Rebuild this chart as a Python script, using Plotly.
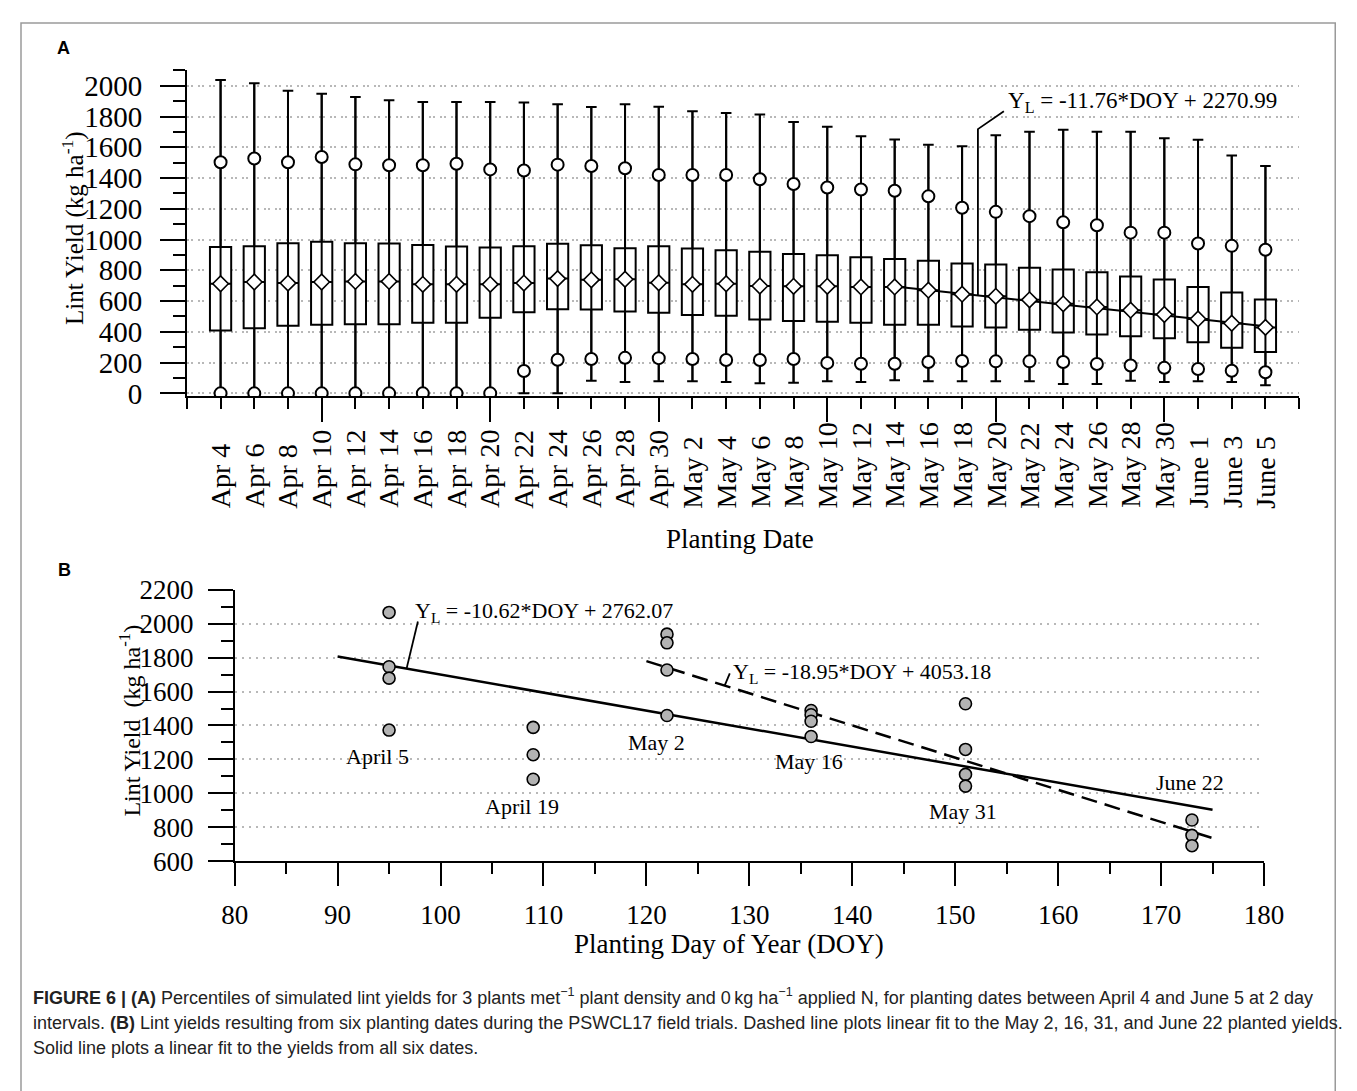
import plotly.graph_objects as go

# ---------------- Panel A data ----------------
dates_a = ["Apr 4", "Apr 6", "Apr 8", "Apr 10", "Apr 12", "Apr 14", "Apr 16", "Apr 18",
           "Apr 20", "Apr 22", "Apr 24", "Apr 26", "Apr 28", "Apr 30", "May 2", "May 4",
           "May 6", "May 8", "May 10", "May 12", "May 14", "May 16", "May 18", "May 20",
           "May 22", "May 24", "May 26", "May 28", "May 30", "June 1", "June 3", "June 5"]
doy_a = [94, 96, 98, 100, 102, 104, 106, 108, 110, 112, 114, 116, 118, 120, 122, 124,
         126, 128, 130, 132, 134, 136, 138, 140, 142, 144, 146, 148, 150, 152, 154, 156]
p_max = [2038, 2017, 1967, 1948, 1926, 1905, 1895, 1895, 1895, 1891, 1880, 1861, 1880, 1863, 1834, 1823,
         1813, 1764, 1733, 1672, 1651, 1617, 1607, 1678, 1701, 1714, 1701, 1701, 1659, 1649, 1546, 1478]
p90 = [1503, 1527, 1503, 1537, 1489, 1483, 1483, 1493, 1456, 1449, 1487, 1478, 1464, 1420, 1420, 1420,
       1392, 1361, 1338, 1325, 1317, 1281, 1207, 1180, 1152, 1112, 1093, 1045, 1045, 974, 959, 934]
q3 = [951, 957, 976, 986, 976, 974, 965, 955, 949, 957, 972, 963, 944, 957, 942, 931,
      921, 906, 898, 885, 873, 862, 845, 837, 816, 806, 787, 759, 740, 692, 656, 610]
median = [713, 724, 717, 724, 728, 728, 709, 709, 709, 717, 746, 738, 742, 719, 709, 713,
          698, 696, 696, 692, 692, 671, 645, 631, 608, 582, 562, 541, 513, 484, 456, 429]
q1 = [408, 423, 440, 446, 450, 450, 459, 459, 492, 528, 547, 545, 532, 524, 509, 505,
      480, 471, 465, 459, 446, 446, 435, 429, 414, 395, 383, 372, 358, 332, 297, 269]
p10 = [0, 0, 0, 0, 0, 0, 0, 0, 0, 145, 219, 223, 231, 229, 223, 217,
       217, 223, 198, 193, 193, 204, 210, 208, 208, 204, 191, 181, 166, 158, 147, 137]
p_min = [0, 0, 0, 0, 0, 0, 0, 0, 0, 0, 0, 82, 74, 78, 78, 74,
         65, 69, 78, 74, 86, 78, 78, 78, 78, 61, 61, 82, 74, 78, 74, 52]
fit_a = {"slope": -11.76, "intercept": 2270.99, "first_date": "May 14"}
eq_a = "Y<sub>L</sub> = -11.76*DOY + 2270.99"
yticks_a = [0, 200, 400, 600, 800, 1000, 1200, 1400, 1600, 1800, 2000]
long_tick_dates = ["Apr 10", "Apr 20", "Apr 30", "May 10", "May 20", "May 30"]

# ---------------- Panel B data ----------------
obs_doy = [95, 95, 95, 95, 109, 109, 109, 122, 122, 122, 122, 136, 136, 136, 136,
           151, 151, 151, 151, 173, 173, 173]
obs_yield = [2066, 1746, 1679, 1373, 1389, 1228, 1083, 1938, 1887, 1727, 1459, 1488, 1463, 1425, 1335,
             1528, 1259, 1112, 1043, 843, 753, 692]
date_names_b = ["April 5", "April 19", "May 2", "May 16", "May 31", "June 22"]
date_label_x = [93.9, 107.9, 121.0, 135.8, 150.8, 172.8]
date_label_y = [1217, 921, 1301, 1186, 894, 1064]
fit_all = {"slope": -10.62, "intercept": 2762.07, "x0": 90, "x1": 175}
fit_late = {"slope": -18.95, "intercept": 4053.18, "x0": 120, "x1": 175}
eq_all = "Y<sub>L</sub> = -10.62*DOY + 2762.07"
eq_late = "Y<sub>L</sub> = -18.95*DOY + 4053.18"
xticks_b = [80, 90, 100, 110, 120, 130, 140, 150, 160, 170, 180]
yticks_b = [600, 800, 1000, 1200, 1400, 1600, 1800, 2000, 2200]

caption_lines = [
    "<b>FIGURE 6 | (A)</b> Percentiles of simulated lint yields for 3 plants met<sup>\u22121</sup> plant density and 0\u2009kg ha<sup>\u22121</sup> applied N, for planting dates between April 4 and June 5 at 2 day",
    "intervals. <b>(B)</b> Lint yields resulting from six planting dates during the PSWCL17 field trials. Dashed line plots linear fit to the May 2, 16, 31, and June 22 planted yields.",
    "Solid line plots a linear fit to the yields from all six dates.",
]

# ---------------- geometry ----------------
W, H = 1357, 1091
PAGE_OFFSET = 8  # default body margin of the html page
SERIF = "Liberation Serif, Times New Roman, serif"


def px_x(v):
    return (v - PAGE_OFFSET) / W


def px_y(v):
    return 1 - (v - PAGE_OFFSET) / H


xs = list(range(len(dates_a)))

fig = go.Figure()

# boxes (panel A)
fig.add_trace(go.Box(
    x=xs, q1=q1, median=median, q3=q3, lowerfence=p_min, upperfence=p_max,
    width=0.63, whiskerwidth=0.5, fillcolor="white", boxpoints=False,
    line=dict(color="black", width=2), hoverinfo="skip", showlegend=False,
    xaxis="x", yaxis="y"))

# full whisker line through each box
wx, wy = [], []
for i in xs:
    wx += [i, i, None]
    wy += [p_min[i], p_max[i], None]
fig.add_trace(go.Scatter(x=wx, y=wy, mode="lines", line=dict(color="black", width=2),
                         hoverinfo="skip", showlegend=False, xaxis="x", yaxis="y"))

# regression line (panel A)
start = dates_a.index(fit_a["first_date"])
fx = xs[start:]
fy = [fit_a["slope"] * d + fit_a["intercept"] for d in doy_a[start:]]
fig.add_trace(go.Scatter(x=fx, y=fy, mode="lines", line=dict(color="black", width=2),
                         hoverinfo="skip", showlegend=False, xaxis="x", yaxis="y"))

# leader line for the equation (panel A)
lead_ix = 22.47
lead_doy = doy_a[0] + 2 * lead_ix
lead_a_x = [lead_ix, lead_ix, 23.24]
lead_a_y = [fit_a["slope"] * lead_doy + fit_a["intercept"], 1718, 1834]
fig.add_trace(go.Scatter(x=lead_a_x, y=lead_a_y, mode="lines", line=dict(color="black", width=1.8),
                         hoverinfo="skip", showlegend=False, xaxis="x", yaxis="y"))

# percentile circles and diamonds
circ = dict(symbol="circle", size=12, color="white", line=dict(color="black", width=2))
fig.add_trace(go.Scatter(x=xs, y=p90, mode="markers", marker=circ, hoverinfo="skip",
                         showlegend=False, xaxis="x", yaxis="y"))
fig.add_trace(go.Scatter(x=xs, y=p10, mode="markers", marker=circ, hoverinfo="skip",
                         showlegend=False, xaxis="x", yaxis="y"))
fig.add_trace(go.Scatter(x=xs, y=median, mode="markers",
                         marker=dict(symbol="diamond", size=12, color="white",
                                     line=dict(color="black", width=1.6)),
                         hoverinfo="skip", showlegend=False, xaxis="x", yaxis="y"))

# dummy traces for overlay tick axes
fig.add_trace(go.Scatter(x=[None], y=[None], xaxis="x3", yaxis="y", showlegend=False, hoverinfo="skip"))
fig.add_trace(go.Scatter(x=[None], y=[None], xaxis="x4", yaxis="y2", showlegend=False, hoverinfo="skip"))

# ---------------- Panel B traces ----------------
for fit, dash in ((fit_all, "solid"), (fit_late, "16px,8px")):
    lx = [fit["x0"], fit["x1"]]
    ly = [fit["slope"] * v + fit["intercept"] for v in lx]
    fig.add_trace(go.Scatter(x=lx, y=ly, mode="lines", line=dict(color="black", width=2.5, dash=dash),
                             hoverinfo="skip", showlegend=False, xaxis="x2", yaxis="y2"))

lead_b1_x = [96.7, 97.8]
lead_b1_y = [fit_all["slope"] * 96.7 + fit_all["intercept"], 2013]
lead_b2_x = [127.6, 128.1]
lead_b2_y = [fit_late["slope"] * 127.6 + fit_late["intercept"], 1707]
for lx, ly in ((lead_b1_x, lead_b1_y), (lead_b2_x, lead_b2_y)):
    fig.add_trace(go.Scatter(x=lx, y=ly, mode="lines", line=dict(color="black", width=1.8),
                             hoverinfo="skip", showlegend=False, xaxis="x2", yaxis="y2"))

fig.add_trace(go.Scatter(x=obs_doy, y=obs_yield, mode="markers",
                         marker=dict(symbol="circle", size=12, color="#b3b3b3",
                                     line=dict(color="black", width=1.6)),
                         hoverinfo="skip", showlegend=False, xaxis="x2", yaxis="y2"))

# ---------------- axes ----------------
GRID = "#b8b8b8"
ax_common = dict(showline=True, linecolor="black", linewidth=1.5, ticks="outside",
                 tickcolor="black", tickwidth=1.5, zeroline=False)

fig.update_layout(
    width=W, height=H, margin=dict(l=0, r=0, t=0, b=0),
    paper_bgcolor="white", plot_bgcolor="white", showlegend=False,
    xaxis=dict(domain=[px_x(178), px_x(1318)], anchor="y", range=[-1, 32],
               tickmode="array", tickvals=list(range(-1, 33)), ticklen=11,
               showticklabels=False, showgrid=False, **ax_common),
    xaxis3=dict(overlaying="x", anchor="y", range=[-1, 32], tickmode="array",
                tickvals=[dates_a.index(d) for d in long_tick_dates], ticks="outside",
                ticklen=25, tickwidth=1.5, tickcolor="black", showline=False,
                showticklabels=False, showgrid=False, zeroline=False),
    yaxis=dict(domain=[px_y(392), px_y(56.7)], anchor="x", range=[-20, 2100],
               tickmode="array", tickvals=yticks_a, ticklen=25,
               minor=dict(dtick=100, tick0=0, ticklen=12, tickwidth=1.5, tickcolor="black",
                          ticks="outside", showgrid=False),
               showgrid=True, gridcolor=GRID, gridwidth=1.5, griddash="2px,2px,2px,5px",
               tickfont=dict(family=SERIF, size=29, color="black"), ticklabelstandoff=12,
               **ax_common),
    xaxis2=dict(domain=[px_x(227), px_x(1282)], anchor="y2", range=[80, 180],
                tickmode="array", tickvals=xticks_b, ticklen=23, showgrid=False,
                tickfont=dict(family=SERIF, size=27, color="black"), ticklabelstandoff=6,
                **ax_common),
    xaxis4=dict(overlaying="x2", anchor="y2", range=[80, 180], tickmode="array",
                tickvals=[v + 5 for v in xticks_b[:-1]], ticks="outside", ticklen=12,
                tickwidth=1.5, tickcolor="black", showline=False, showticklabels=False,
                showgrid=False, zeroline=False),
    yaxis2=dict(domain=[px_y(870), px_y(590.7)], anchor="x2", range=[600, 2200],
                tickmode="array", tickvals=yticks_b, ticklen=25,
                minor=dict(dtick=100, tick0=600, ticklen=12, tickwidth=1.5, tickcolor="black",
                           ticks="outside", showgrid=False),
                showgrid=True, gridcolor=GRID, gridwidth=1.5, griddash="2px,5px",
                tickfont=dict(family=SERIF, size=27, color="black"), ticklabelstandoff=9,
                **ax_common),
)

C = dict(xanchor="center", yanchor="middle", showarrow=False)
ann = []
# panel A date labels (bottom aligned, rotated)
for i, d in enumerate(dates_a):
    ann.append(dict(x=i, xref="x", y=px_y(509), yref="paper", text=d, textangle=-90,
                    xanchor="center", yanchor="bottom", showarrow=False,
                    font=dict(family=SERIF, size=28, color="black")))
ann += [
    dict(x=px_x(745), y=px_y(539), xref="paper", yref="paper", text="Planting Date",
         font=dict(family=SERIF, size=27, color="black"), **C),
    dict(x=px_x(61), y=px_y(219), xref="paper", yref="paper", text="Lint Yield (kg ha<sup>-1</sup>)",
         textangle=-90, font=dict(family=SERIF, size=25, color="black"), **C),
    dict(x=23.3, y=1895, xref="x", yref="y", text=eq_a, xanchor="left", yanchor="middle",
         showarrow=False, font=dict(family=SERIF, size=23, color="black")),
    dict(x=px_x(734), y=px_y(955), xref="paper", yref="paper", text="Planting Day of Year (DOY)",
         font=dict(family=SERIF, size=27, color="black"), **C),
    dict(x=px_x(120), y=px_y(725), xref="paper", yref="paper",
         text="Lint Yield  (kg ha<sup>-1</sup>)", textangle=-90,
         font=dict(family=SERIF, size=24, color="black"), **C),
    dict(x=97.3, y=2070, xref="x2", yref="y2", text=eq_all, xanchor="left", yanchor="middle",
         showarrow=False, font=dict(family=SERIF, size=22, color="black")),
    dict(x=128.2, y=1707, xref="x2", yref="y2", text=eq_late, xanchor="left", yanchor="middle",
         showarrow=False, font=dict(family=SERIF, size=22, color="black")),
    dict(x=px_x(52), y=px_y(34), xref="paper", yref="paper", text="<b>A</b>",
         font=dict(family="Liberation Sans, Arial, sans-serif", size=18, color="black"), **C),
    dict(x=px_x(53), y=px_y(570), xref="paper", yref="paper", text="<b>B</b>",
         font=dict(family="Liberation Sans, Arial, sans-serif", size=18, color="black"), **C),
]
for name, lx, ly in zip(date_names_b, date_label_x, date_label_y):
    ann.append(dict(x=lx, y=ly, xref="x2", yref="y2", text=name,
                    font=dict(family=SERIF, size=22, color="black"), **C))
for k, (line, yy) in enumerate(zip(caption_lines, [1009, 1036, 1062])):
    ann.append(dict(x=px_x(18), y=px_y(yy), xref="paper", yref="paper", text=line,
                    xanchor="left", yanchor="middle", showarrow=False,
                    font=dict(family="Liberation Sans, Arial, sans-serif", size=18, color="#222222")))
fig.update_layout(annotations=ann)

fig.add_shape(type="rect", xref="paper", yref="paper", x0=px_x(8), x1=px_x(1355),
              y0=px_y(1110), y1=px_y(8), line=dict(color="#9a9a9a", width=1.5), layer="below")

fig.write_html("out.html", config={"displayModeBar": False})
